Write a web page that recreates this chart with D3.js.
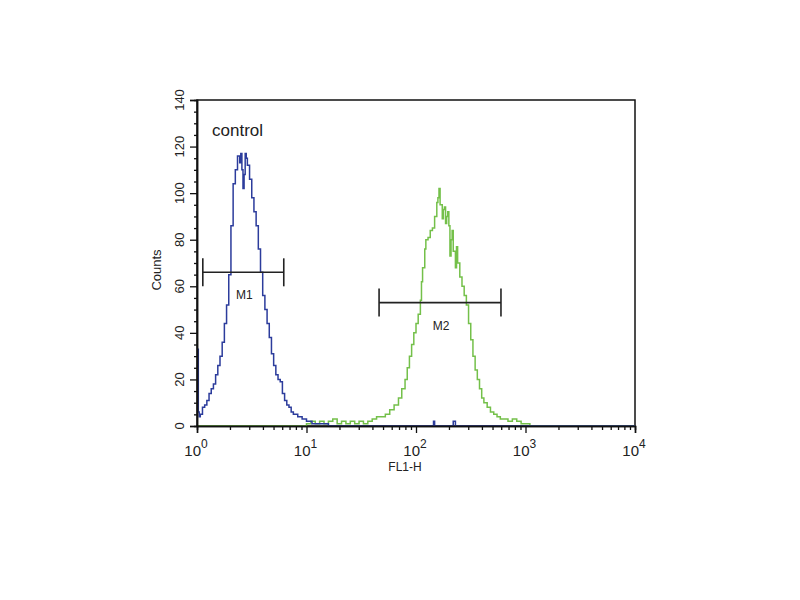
<!DOCTYPE html>
<html>
<head>
<meta charset="utf-8">
<script src="https://cdn.jsdelivr.net/npm/d3@7"></script>
<style>
  body { margin: 0; background: #fff; }
  text { font-family: Arial, "Liberation Sans", sans-serif; fill: #222; }
</style>
</head>
<body>
<div id="histogram"></div>
<script>

// control histogram (blue): log10(FL1-H) position and counts
var controlLog = [0.00, 0.012, 0.02, 0.03, 0.05, 0.07, 0.09, 0.11, 0.13, 0.15, 0.17, 0.19, 0.21, 0.23, 0.25, 0.27, 0.29, 0.31, 0.33, 0.35, 0.37, 0.39, 0.40, 0.41, 0.42, 0.43, 0.44, 0.45, 0.46, 0.48, 0.50, 0.52, 0.54, 0.56, 0.58, 0.60, 0.62, 0.64, 0.66, 0.68, 0.70, 0.72, 0.74, 0.76, 0.77, 0.78, 0.80, 0.82, 0.84, 0.86, 0.88, 0.90, 0.92, 0.96, 1.00, 1.05, 1.10, 1.20, 2.15, 2.16, 2.17, 2.33, 2.34, 2.36, 4.00];
var controlCounts = [33, 6, 4, 5, 8, 9, 11, 14, 16, 18, 22, 26, 30, 36, 44, 52, 65, 86, 104, 110, 116, 113, 117, 110, 102, 108, 117, 115, 112, 106, 98, 92, 86, 76, 66, 56, 50, 44, 38, 31, 26, 22, 20, 19, 19, 14, 11, 9, 8, 6, 5, 5, 4, 3, 2, 1, 1, 0, 0, 2, 0, 0, 2, 0, 0];

// sample histogram (green)
var sampleLog = [0.00, 0.95, 1.00, 1.04, 1.08, 1.12, 1.16, 1.20, 1.24, 1.28, 1.32, 1.36, 1.40, 1.44, 1.48, 1.52, 1.56, 1.60, 1.64, 1.68, 1.72, 1.76, 1.80, 1.84, 1.87, 1.90, 1.92, 1.94, 1.96, 1.98, 2.00, 2.02, 2.04, 2.05, 2.06, 2.08, 2.09, 2.11, 2.13, 2.15, 2.17, 2.19, 2.20, 2.21, 2.22, 2.24, 2.25, 2.26, 2.27, 2.28, 2.29, 2.30, 2.31, 2.32, 2.33, 2.34, 2.36, 2.37, 2.38, 2.40, 2.42, 2.44, 2.46, 2.48, 2.50, 2.52, 2.54, 2.56, 2.58, 2.60, 2.62, 2.65, 2.68, 2.71, 2.74, 2.77, 2.80, 2.84, 2.88, 2.92, 2.96, 3.00, 3.04, 4.00];
var sampleCounts = [0, 0, 1, 2, 1, 2, 1, 2, 3, 1, 2, 1, 2, 1, 2, 1, 2, 3, 4, 4, 5, 7, 9, 12, 16, 20, 25, 30, 35, 40, 44, 48, 54, 62, 68, 76, 80, 81, 84, 85, 90, 96, 98, 102, 95, 89, 93, 94, 87, 90, 92, 86, 73, 80, 84, 75, 68, 77, 70, 64, 60, 56, 52, 44, 37, 30, 24, 20, 16, 12, 10, 8, 6, 5, 4, 3, 3, 2, 3, 2, 1, 1, 0, 0];

// markers: name, FL1-H range, count level
var markerNames = ["M1", "M2"];
var markerStart = [1.13, 46];
var markerEnd = [6.2, 597];
var markerLevel = [66, 53];

var xMajor = [1, 10, 100, 1000, 10000];
var xExp = ["0", "1", "2", "3", "4"];
var yMajor = [0, 20, 40, 60, 80, 100, 120, 140];

var w = 800;
var h = 600;
var svg = d3.select("#histogram")
	.append("svg")
	.attr("width", w)
	.attr("height", h);

// plot box (window.top is taken, so prefixed names)
var plotLeft = 197, plotRight = 635, plotTop = 100, plotBottom = 426;

var xScale = d3.scaleLog()
	.domain([1, 10000])
	.range([plotLeft, plotRight]);
var yScale = d3.scaleLinear()
	.domain([0, 140])
	.range([plotBottom, plotTop]);

// minor ticks: 2..9 per decade on x, every 5 counts on y
var xMinor = [];
for (var p = 1; p < 10000; p *= 10) {
	for (var k = 2; k < 10; k++) xMinor.push(p * k);
}
var yMinor = d3.range(0, 141, 5).filter(function(v) { return v % 20 !== 0; });

// frame
svg.append("rect")
	.attr("x", plotLeft)
	.attr("y", plotTop)
	.attr("width", plotRight - plotLeft)
	.attr("height", plotBottom - plotTop)
	.attr("fill", "none")
	.attr("stroke", "#111")
	.attr("stroke-width", 1.5);

var line = d3.line()
	.x(function(d) { return xScale(Math.pow(10, d[0])); })
	.y(function(d) { return yScale(d[1]); })
	.curve(d3.curveStepAfter);

svg.append("path")
	.datum(d3.zip(sampleLog, sampleCounts))
	.attr("d", line)
	.attr("fill", "none")
	.attr("stroke", "#74c04a")
	.attr("stroke-width", 1.5);

svg.append("path")
	.datum(d3.zip(controlLog, controlCounts))
	.attr("d", line)
	.attr("fill", "none")
	.attr("stroke", "#2c3c9c")
	.attr("stroke-width", 1.5);

// y axis
var yg = svg.append("g").attr("transform", "translate(" + plotLeft + ",0)");
yg.call(d3.axisLeft(yScale).tickValues(yMajor).tickSize(7).tickFormat(""));
yg.append("g").call(d3.axisLeft(yScale).tickValues(yMinor).tickSize(3).tickFormat(""));
yg.selectAll("path.domain").attr("stroke", "#111").attr("stroke-width", 1.5);
yg.selectAll("line").attr("stroke", "#111").attr("stroke-width", 1.3);

yg.selectAll("text.ylab")
	.data(yMajor)
	.enter()
	.append("text")
	.attr("class", "ylab")
	.attr("transform", function(d) { return "translate(-13," + yScale(d) + ") rotate(-90)"; })
	.attr("text-anchor", "middle")
	.attr("font-size", 13)
	.text(function(d) { return d; });

// x axis
var xg = svg.append("g").attr("transform", "translate(0," + plotBottom + ")");
xg.call(d3.axisBottom(xScale).tickValues(xMajor).tickSize(7).tickFormat(""));
xg.append("g").call(d3.axisBottom(xScale).tickValues(xMinor).tickSize(4).tickFormat(""));
xg.selectAll("path.domain").attr("stroke", "#111").attr("stroke-width", 1.5);
xg.selectAll("line").attr("stroke", "#111").attr("stroke-width", 1.3);

var xl = xg.selectAll("text.xlab")
	.data(xMajor)
	.enter()
	.append("text")
	.attr("class", "xlab")
	.attr("x", function(d) { return xScale(d) - 1; })
	.attr("y", 30)
	.attr("text-anchor", "middle")
	.attr("font-size", 15);
xl.append("tspan").text("10");
xl.append("tspan")
	.attr("dy", -8)
	.attr("font-size", 12)
	.text(function(d, i) { return xExp[i]; });

// axis titles
svg.append("text")
	.attr("transform", "translate(161,270) rotate(-90)")
	.attr("text-anchor", "middle")
	.attr("font-size", 13)
	.text("Counts");
svg.append("text")
	.attr("x", 405)
	.attr("y", 471)
	.attr("text-anchor", "middle")
	.attr("font-size", 12)
	.text("FL1-H");

svg.append("text")
	.attr("x", 212)
	.attr("y", 136)
	.attr("font-size", 17)
	.text("control");

// markers
var mk = svg.append("g")
	.selectAll("g")
	.data(markerNames)
	.enter()
	.append("g");
mk.append("line")
	.attr("x1", function(d, i) { return xScale(markerStart[i]); })
	.attr("x2", function(d, i) { return xScale(markerEnd[i]); })
	.attr("y1", function(d, i) { return yScale(markerLevel[i]); })
	.attr("y2", function(d, i) { return yScale(markerLevel[i]); });
mk.append("line")
	.attr("x1", function(d, i) { return xScale(markerStart[i]); })
	.attr("x2", function(d, i) { return xScale(markerStart[i]); })
	.attr("y1", function(d, i) { return yScale(markerLevel[i]) - 14; })
	.attr("y2", function(d, i) { return yScale(markerLevel[i]) + 14; });
mk.append("line")
	.attr("x1", function(d, i) { return xScale(markerEnd[i]); })
	.attr("x2", function(d, i) { return xScale(markerEnd[i]); })
	.attr("y1", function(d, i) { return yScale(markerLevel[i]) - 14; })
	.attr("y2", function(d, i) { return yScale(markerLevel[i]) + 14; });
mk.selectAll("line")
	.attr("stroke", "#222")
	.attr("stroke-width", 1.6);
mk.append("text")
	.attr("x", function(d, i) { return (xScale(markerStart[i]) + xScale(markerEnd[i])) / 2 + 1; })
	.attr("y", function(d, i) { return yScale(markerLevel[i]) + 27; })
	.attr("text-anchor", "middle")
	.attr("font-size", 12)
	.text(function(d) { return d; });

</script>
</body>
</html>
